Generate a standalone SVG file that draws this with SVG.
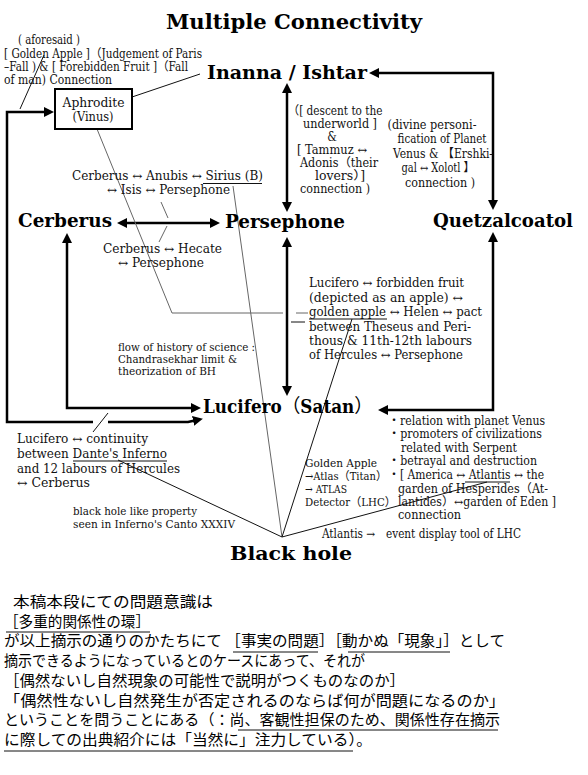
<svg xmlns="http://www.w3.org/2000/svg" width="588" height="775" viewBox="0 0 588 775">
<style>
text{font-family:"DejaVu Serif Condensed","DejaVu Serif","Noto Sans CJK JP",serif;fill:#111;font-size:12px}
.b{font-weight:bold;font-size:19px;fill:#000}
.t{font-weight:bold;font-size:20px;fill:#000}
.s{font-size:11px}
.a{font-size:11.5px}
.c{text-anchor:middle}
.jp{font-family:"Noto Sans CJK JP","Noto Sans CJK SC",sans-serif;font-size:15px;fill:#000}
.thick{fill:none;stroke:#000;stroke-width:2.5}
.thin{fill:none;stroke:#111;stroke-width:1}
.gray{fill:none;stroke:#666;stroke-width:1}
.ul{stroke:#111;stroke-width:1}
</style>
<defs>
<marker id="ah" viewBox="0 0 10 10" refX="4" refY="5" markerWidth="10" markerHeight="10" markerUnits="userSpaceOnUse" orient="auto-start-reverse">
<path d="M0,0 L10,5 L0,10 z" fill="#000"/>
</marker>
</defs>
<rect width="588" height="775" fill="#fff"/>
<text id="title" class="t" x="166" y="29" textLength="256" lengthAdjust="spacingAndGlyphs">Multiple Connectivity</text>

<g id="connectors">
<path class="thick" d="M287,89 V206" marker-start="url(#ah)" marker-end="url(#ah)"/>
<path class="thick" d="M287,243 V390" marker-start="url(#ah)" marker-end="url(#ah)"/>
<path class="thick" d="M123,223 H214" marker-start="url(#ah)" marker-end="url(#ah)"/>
<path class="thick" d="M375,73 H493 V204" marker-start="url(#ah)" marker-end="url(#ah)"/>
<path class="thick" d="M493,238 V410 H384" marker-start="url(#ah)" marker-end="url(#ah)"/>
<path class="thick" d="M67,239 V408 H195" marker-start="url(#ah)" marker-end="url(#ah)"/>
<path class="thick" d="M93,422 H7 V112 H48" marker-end="url(#ah)"/>
<path class="thick" d="M108,422 H188 L197,420" marker-end="url(#ah)"/>
<path class="thin" d="M132,97 L200,74"/>
<path class="thin" d="M20,109 L44,55"/>
<path class="gray" d="M97,129 L172,313 H283 M296,313 H308"/>
<path class="thin" d="M291,322 H305"/>
<path class="gray" d="M233,186 L282,537"/>
<path class="thin" d="M352,319 L282,537"/>
<path class="thin" d="M487,482 L282,537"/>
<path class="thin" d="M118,460 L282,537"/>
<path class="gray" d="M161,202 L168,218 M167,226 L159,242"/>
<path class="thin" d="M108,413 L93,432"/>
</g>

<g id="aphrodite">
<rect x="55" y="89" width="77" height="40" fill="#fff" stroke="#000" stroke-width="2"/>
<text class="c" x="93.5" y="107" font-size="13" textLength="62" lengthAdjust="spacingAndGlyphs">Aphrodite</text>
<text class="c" x="93" y="121" font-size="13" textLength="41" lengthAdjust="spacingAndGlyphs">(Vinus)</text>
</g>
<g id="note-golden-apple">
<text x="18" y="44" textLength="62" lengthAdjust="spacingAndGlyphs">( aforesaid )</text>
<text x="4" y="58" textLength="198" lengthAdjust="spacingAndGlyphs">[ Golden Apple ]（Judgement of Paris</text>
<text x="4" y="71" textLength="184" lengthAdjust="spacingAndGlyphs">–Fall )  &amp; [ Forebidden Fruit ]（Fall</text>
<text x="4" y="84" textLength="108" lengthAdjust="spacingAndGlyphs">of man)  Connection</text>
</g>
<g id="inanna"><text class="b" x="207" y="79" textLength="160" lengthAdjust="spacingAndGlyphs">Inanna / Ishtar</text></g>
<g id="cerberus"><text class="b" x="18" y="227" textLength="94" lengthAdjust="spacingAndGlyphs">Cerberus</text></g>
<g id="persephone"><text class="b" x="225" y="228" textLength="120" lengthAdjust="spacingAndGlyphs">Persephone</text></g>
<g id="quetzalcoatol"><text class="b" x="433" y="227" textLength="140" lengthAdjust="spacingAndGlyphs">Quetzalcoatol</text></g>
<g id="lucifero"><text class="b" x="203" y="413" textLength="170" lengthAdjust="spacingAndGlyphs">Lucifero<tspan font-weight="normal">（</tspan>Satan<tspan font-weight="normal">）</tspan></text></g>
<g id="blackhole"><text class="b" x="230" y="560" textLength="122" lengthAdjust="spacingAndGlyphs">Black hole</text></g>

<g id="note-descent">
<text class="c" x="335" y="115" textLength="95" lengthAdjust="spacingAndGlyphs">（[ descent to the</text>
<text class="c" x="340" y="128" textLength="74" lengthAdjust="spacingAndGlyphs">underworld ]</text>
<text class="c" x="332" y="141">&amp;</text>
<text class="c" x="332" y="154" textLength="70" lengthAdjust="spacingAndGlyphs">[ Tammuz ↔</text>
<text class="c" x="339" y="167" textLength="78" lengthAdjust="spacingAndGlyphs">Adonis（their</text>
<text class="c" x="340" y="180" textLength="50" lengthAdjust="spacingAndGlyphs">lovers）]</text>
<text class="c" x="335" y="193" textLength="70" lengthAdjust="spacingAndGlyphs">connection )</text>
</g>
<g id="note-venus">
<text class="c" x="432" y="129" textLength="89" lengthAdjust="spacingAndGlyphs">(divine personi-</text>
<text class="c" x="442" y="143" textLength="89" lengthAdjust="spacingAndGlyphs">fication of Planet</text>
<text class="c" x="443" y="158" textLength="100" lengthAdjust="spacingAndGlyphs">Venus &amp; 【Ershki-</text>
<text class="c" x="438" y="172" textLength="73" lengthAdjust="spacingAndGlyphs">gal ↔ Xolotl 】</text>
<text class="c" x="440" y="187" textLength="70" lengthAdjust="spacingAndGlyphs">connection )</text>
</g>
<g id="note-anubis">
<text x="72" y="180" textLength="191" lengthAdjust="spacingAndGlyphs">Cerberus ↔ Anubis ↔ Sirius  (B)</text>
<line class="ul" x1="203" y1="183.5" x2="262" y2="183.5"/>
<text x="107" y="194" textLength="123" lengthAdjust="spacingAndGlyphs">↔  Isis ↔ Persephone</text>
<text x="103" y="253" textLength="119" lengthAdjust="spacingAndGlyphs">Cerberus ↔ Hecate</text>
<text x="118" y="267" textLength="86" lengthAdjust="spacingAndGlyphs">↔  Persephone</text>
</g>
<g id="note-forbidden-fruit">
<text x="309" y="287" textLength="155" lengthAdjust="spacingAndGlyphs">Lucifero ↔ forbidden fruit</text>
<text x="309" y="302" textLength="154" lengthAdjust="spacingAndGlyphs">(depicted as  an apple)  ↔</text>
<text x="309" y="316" textLength="173" lengthAdjust="spacingAndGlyphs">golden apple ↔ Helen ↔ pact</text>
<line class="ul" x1="309" y1="319" x2="387" y2="319"/>
<text x="309" y="331" textLength="162" lengthAdjust="spacingAndGlyphs">between Theseus and Peri-</text>
<text x="309" y="345" textLength="163" lengthAdjust="spacingAndGlyphs">thous &amp; 11th-12th labours</text>
<text x="309" y="359" textLength="154" lengthAdjust="spacingAndGlyphs">of Hercules ↔ Persephone</text>
</g>
<g id="note-science">
<text class="s" x="118" y="351" textLength="137" lengthAdjust="spacingAndGlyphs">flow of history of science :</text>
<text class="s" x="118" y="363" textLength="119" lengthAdjust="spacingAndGlyphs">Chandrasekhar limit &amp;</text>
<text class="s" x="118" y="375" textLength="98" lengthAdjust="spacingAndGlyphs">theorization of BH</text>
</g>
<g id="note-dante">
<text x="17" y="443" font-size="12.5" textLength="131" lengthAdjust="spacingAndGlyphs">Lucifero ↔ continuity</text>
<text x="17" y="458" font-size="12.5" textLength="150" lengthAdjust="spacingAndGlyphs">between Dante's Inferno</text>
<line class="ul" x1="73" y1="461" x2="167" y2="461"/>
<text x="17" y="473" font-size="12.5" textLength="163" lengthAdjust="spacingAndGlyphs">and 12 labours of Hercules</text>
<text x="17" y="487" font-size="12.5" textLength="73" lengthAdjust="spacingAndGlyphs">↔  Cerberus</text>
</g>
<g id="note-canto">
<text class="s" x="73" y="515" textLength="124" lengthAdjust="spacingAndGlyphs">black hole like property</text>
<text class="s" x="73" y="528" textLength="162" lengthAdjust="spacingAndGlyphs">seen  in Inferno's Canto XXXIV</text>
</g>
<g id="note-atlas">
<text class="a" x="305" y="467" textLength="72" lengthAdjust="spacingAndGlyphs">Golden Apple</text>
<text class="a" x="305" y="480" textLength="82" lengthAdjust="spacingAndGlyphs">→Atlas（Titan）</text>
<text class="a" x="305" y="493" textLength="42" lengthAdjust="spacingAndGlyphs">→ ATLAS</text>
<text class="a" x="305" y="505.5" textLength="91" lengthAdjust="spacingAndGlyphs">Detector（LHC）</text>
</g>
<g id="note-venus-relation">
<text x="388" y="425" textLength="157" lengthAdjust="spacingAndGlyphs">・relation with planet Venus</text>
<text x="388" y="438" textLength="154" lengthAdjust="spacingAndGlyphs">・promoters of civilizations</text>
<text x="401" y="452" textLength="116" lengthAdjust="spacingAndGlyphs">related with Serpent</text>
<text x="388" y="465" textLength="149" lengthAdjust="spacingAndGlyphs">・betrayal and destruction</text>
<text x="388" y="479" textLength="156" lengthAdjust="spacingAndGlyphs">・[ America ↔ Atlantis ↔ the</text>
<line class="ul" x1="465" y1="482" x2="510" y2="482"/>
<text x="398" y="493" textLength="150" lengthAdjust="spacingAndGlyphs">garden of Hesperides（At-</text>
<text x="398" y="506" textLength="158" lengthAdjust="spacingAndGlyphs">lantides）↔garden of Eden ]</text>
<text x="398" y="519" textLength="63" lengthAdjust="spacingAndGlyphs">connection</text>
</g>
<g id="note-lhc">
<text x="322" y="538" textLength="53" lengthAdjust="spacingAndGlyphs">Atlantis →</text>
<text x="386" y="538" textLength="135" lengthAdjust="spacingAndGlyphs">event display tool of LHC</text>
</g>

<g id="japanese-text">
<text class="jp" x="13" y="607" textLength="200" lengthAdjust="spacingAndGlyphs">本稿本段にての問題意識は</text>
<text class="jp" x="4" y="627" textLength="146" lengthAdjust="spacingAndGlyphs">［多重的関係性の環］</text>
<line class="ul" x1="6" y1="632" x2="150" y2="632"/>
<text class="jp" x="4" y="646" textLength="501" lengthAdjust="spacingAndGlyphs">が以上摘示の通りのかたちにて ［事実の問題］［動かぬ「現象」］として</text>
<line class="ul" x1="233" y1="652" x2="318" y2="652"/>
<line class="ul" x1="348" y1="652" x2="450" y2="652"/>
<text class="jp" x="4" y="666" textLength="361" lengthAdjust="spacingAndGlyphs">摘示できるようになっているとのケースにあって、それが</text>
<text class="jp" x="4" y="686" textLength="401" lengthAdjust="spacingAndGlyphs">［偶然ないし自然現象の可能性で説明がつくものなのか］</text>
<text class="jp" x="4" y="706" textLength="501" lengthAdjust="spacingAndGlyphs">「偶然性ないし自然発生が否定されるのならば何が問題になるのか」</text>
<text class="jp" x="4" y="725" textLength="496" lengthAdjust="spacingAndGlyphs">ということを問うことにある（：尚、客観性担保のため、関係性存在摘示</text>
<line class="ul" x1="238" y1="730" x2="498" y2="730"/>
<text class="jp" x="4" y="745" textLength="368" lengthAdjust="spacingAndGlyphs">に際しての出典紹介には「当然に」注力している）。</text>
<line class="ul" x1="4" y1="751" x2="353" y2="751"/>
</g>
</svg>
